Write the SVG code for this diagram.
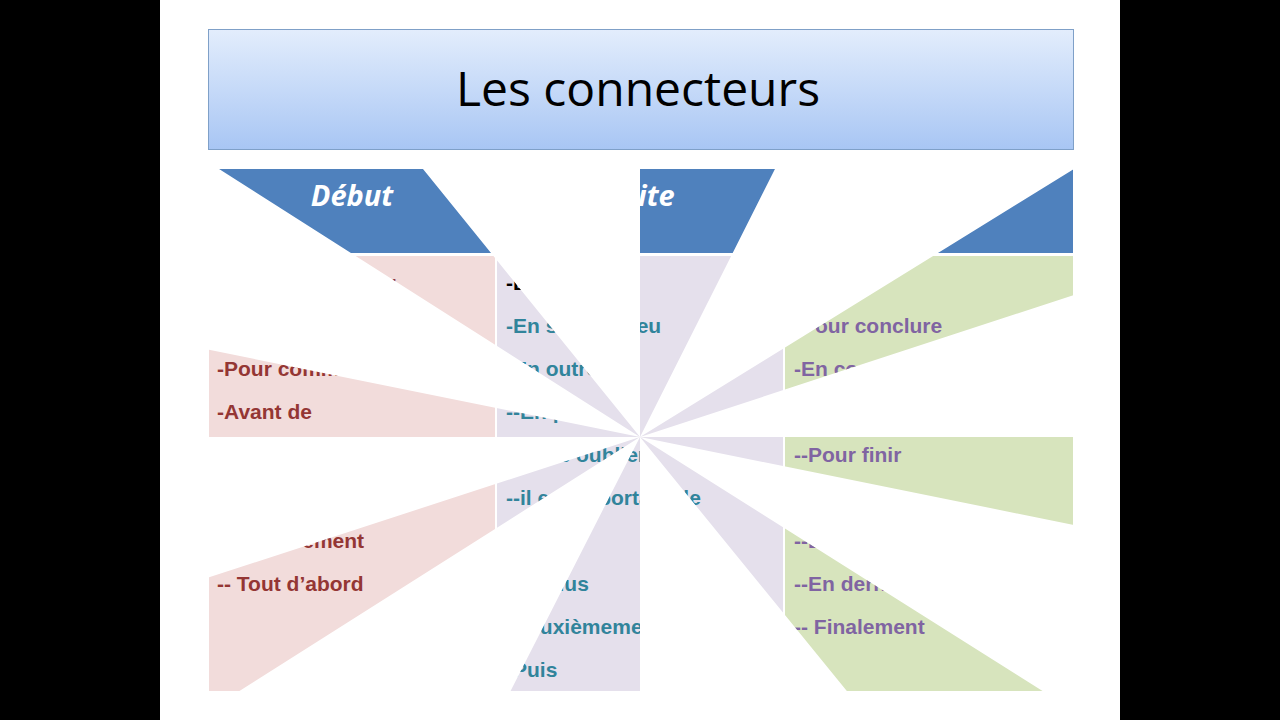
<svg xmlns="http://www.w3.org/2000/svg" width="1280" height="720" viewBox="0 0 1280 720">
<style>
.t{font-family:"Liberation Sans",Arial,sans-serif;font-weight:bold;font-size:21px}
.d{fill:#943634}.s{fill:#31849b}.f{fill:#8064a2}
.h{font-family:"Open Sans","Liberation Sans",sans-serif;font-weight:bold;font-style:italic;font-size:29px;fill:#fff}
</style>
<defs>
<linearGradient id="tg" x1="0" y1="0" x2="0" y2="1"><stop offset="0" stop-color="#e3edfc"/><stop offset="1" stop-color="#a8c6f4"/></linearGradient>
<clipPath id="wheel">
<polygon points="640,437 640,-463 1045,-367"/>
<polygon points="640,437 1508,-99 1508,153"/>
<polygon points="640,437 1540,437 1508,613"/>
<polygon points="640,437 1442,943 1258,1196"/>
<polygon points="640,437 640,1337 253,1196"/>
<polygon points="640,437 -158,943 -220,717"/>
<polygon points="640,437 -260,437 -220,263"/>
<polygon points="640,437 -202,-99 -11,-367"/>
</clipPath>
</defs>
<rect width="1280" height="720" fill="#000"/>
<rect x="160" y="0" width="960" height="720" fill="#fff"/>
<g id="title">
<rect x="208.500" y="29.500" width="865" height="120" fill="url(#tg)" stroke="#7fa0c8"/>
<text x="638" y="106" text-anchor="middle" font-family="'Open Sans','Liberation Sans',sans-serif" font-size="48" fill="#000">Les connecteurs</text>
</g>
<g id="table" clip-path="url(#wheel)">
<g id="col-debut">
<rect x="209" y="169" width="286" height="84" fill="#4f81bd"/>
<text class="h" x="352" y="206" text-anchor="middle">Début</text>
<rect x="209" y="256" width="286" height="435" fill="#f2dcdb"/>
<text class="t d" x="217" y="290">-Pour commencer</text>
<text class="t d" x="217" y="333">-D’abord</text>
<text class="t d" x="217" y="376">-Pour commencer</text>
<text class="t d" x="217" y="419">-Avant de</text>
<text class="t d" x="217" y="462">-Au début</text>
<text class="t d" x="217" y="505">-En premier lieu</text>
<text class="t d" x="217" y="548">-Premièrement</text>
<text class="t d" x="217" y="591">-- Tout d’abord</text>
</g>
<g id="col-suite">
<rect x="497" y="169" width="286" height="84" fill="#4f81bd"/>
<text class="h" x="640" y="206" text-anchor="middle">Suite</text>
<rect x="497" y="256" width="286" height="435" fill="#e5e0ec"/>
<text class="t" x="506" y="290" fill="#000">-Ensuite</text>
<text class="t s" x="506" y="333">-En second lieu</text>
<text class="t s" x="506" y="376">-En outre</text>
<text class="t s" x="506" y="419">--En plus</text>
<text class="t s" x="506" y="462">--Sans oublier</text>
<text class="t s" x="506" y="505">--il est important de</text>
<text class="t s" x="506" y="548">-Aussi</text>
<text class="t s" x="506" y="591">-De plus</text>
<text class="t s" x="506" y="634">-Deuxièmement</text>
<text class="t s" x="506" y="677">-Puis</text>
</g>
<g id="col-fin">
<rect x="785" y="169" width="288" height="84" fill="#4f81bd"/>
<text class="h" x="929" y="206" text-anchor="middle">Fin</text>
<rect x="785" y="256" width="288" height="435" fill="#d7e4bd"/>
<text class="t f" x="794" y="333">-Pour conclure</text>
<text class="t f" x="794" y="376">-En conclusion</text>
<text class="t f" x="794" y="462">--Pour finir</text>
<text class="t f" x="794" y="548">--Enfin</text>
<text class="t f" x="794" y="591">--En dernier</text>
<text class="t f" x="794" y="634">-- Finalement</text>
</g>
</g>
</svg>
